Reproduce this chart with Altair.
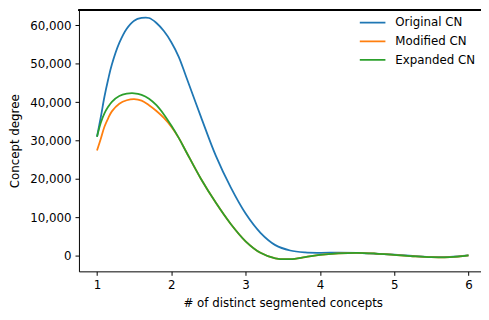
import altair as alt
import pandas as pd

x_vals = [1.0, 1.05, 1.1, 1.15, 1.2, 1.3, 1.4, 1.5, 1.6, 1.7, 1.8, 1.9, 2.0, 2.1, 2.2,
          2.4, 2.6, 2.8, 3.0, 3.2, 3.4, 3.6, 3.8, 4.0, 4.25, 4.5, 4.75, 5.0, 5.25, 5.5, 5.75, 6.0]
original = [31000, 36000, 41400, 45900, 49800, 55400, 59100, 61200, 61900, 61900, 60600, 58500,
            55600, 51800, 46600, 36100, 26000, 17800, 11000, 6000, 2800, 1400, 900, 800, 850,
            800, 550, 300, 0, -300, -250, 150]
modified = [27400, 30400, 33600, 35800, 37600, 39600, 40500, 40800, 40400, 39200, 37700, 35900,
            33600, 30700, 27100, 20000, 13800, 8300, 3800, 800, -650, -850, -350, 250, 650,
            800, 600, 250, -100, -350, -300, 150]
expanded = [31000, 34600, 37100, 38800, 40100, 41600, 42200, 42300, 41900, 40900, 39200, 36800,
            33900, 30700, 27100, 20000, 13800, 8300, 3800, 800, -650, -850, -350, 250, 650,
            800, 600, 250, -100, -350, -300, 150]
series_names = ["Original CN", "Modified CN", "Expanded CN"]
series_colors = ["#1f77b4", "#ff7f0e", "#2ca02c"]
x_ticks = [1, 2, 3, 4, 5, 6]
y_ticks = [0, 10000, 20000, 30000, 40000, 50000, 60000]

rows = []
for name, vals in zip(series_names, [original, modified, expanded]):
    for xv, yv in zip(x_vals, vals):
        rows.append({"x": xv, "y": yv, "series": name})
df = pd.DataFrame(rows)

W, H = 408, 265
FONT = "DejaVu Sans"

color = alt.Color(
    "series:N",
    scale=alt.Scale(domain=series_names, range=series_colors),
    legend=alt.Legend(
        title=None, orient="none", legendX=284, legendY=3,
        symbolType="stroke", symbolSize=676, symbolStrokeWidth=1.8,
        clipHeight=19, rowPadding=0, padding=0, labelOffset=9,
        labelFont=FONT, labelFontSize=12, labelColor="#000",
    ),
)

xenc = alt.X(
    "x:Q",
    scale=alt.Scale(domain=[0.757, 6.168], nice=False, zero=False),
    axis=alt.Axis(
        values=x_ticks, format="d", title="# of distinct segmented concepts",
        titleX=206.8, titleY=32, titleAlign="center", titleBaseline="middle", grid=False,
    ),
)
yenc = alt.Y(
    "y:Q",
    scale=alt.Scale(domain=[-4030, 63920], nice=False, zero=False),
    axis=alt.Axis(
        values=y_ticks, format=",d", title="Concept degree",
        titleX=-65, titleBaseline="middle", grid=False,
    ),
)

layers = []
for name in series_names:
    layers.append(
        alt.Chart(df)
        .transform_filter(alt.datum.series == name)
        .mark_line(strokeWidth=1.8, interpolate="catmull-rom")
        .encode(x=xenc, y=yenc, color=color)
    )

frame = alt.Chart(df).mark_rule(color="#000", strokeWidth=1).encode(
    x=alt.value(0), x2=alt.value(W), y=alt.value(0)
)

chart = (
    alt.layer(*layers, frame)
    .properties(width=W, height=H, autosize=alt.AutoSizeParams(type="none"),
                padding={"left": 72, "top": 0, "right": 0, "bottom": 40})
    .configure_view(strokeWidth=0)
    .configure_axis(
        labelFont=FONT, labelFontSize=12, labelColor="#000",
        titleFont=FONT, titleFontSize=12, titleFontWeight="normal", titleColor="#000",
        domainColor="#000", domainWidth=1, tickColor="#000", tickWidth=1, tickSize=4,
        labelPadding=4,
    )
)

chart.save("out.html", embed_options={"renderer": "svg", "actions": False})
